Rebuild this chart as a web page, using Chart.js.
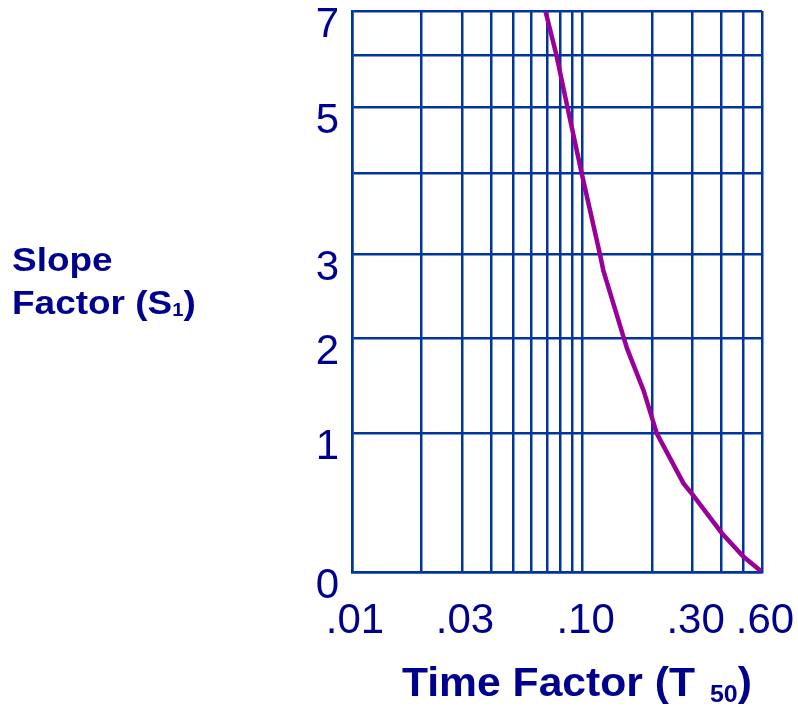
<!DOCTYPE html>
<html>
<head>
  <meta charset="UTF-8">
  <title>Slope Factor vs Time Factor</title>
  <script src="https://cdn.jsdelivr.net/npm/chart.js"></script>
  <style>
    body {
      margin: 0;
      background: #ffffff;
      font-family: "Liberation Sans", Arial, sans-serif;
    }
    #wrap {
      position: relative;
      width: 798px;
      height: 709px;
    }
    canvas {
      position: absolute;
      left: 0;
      top: 0;
    }
    .label {
      position: absolute;
      color: #00008f;
      font-weight: bold;
      white-space: nowrap;
      transform-origin: left top;
    }
    #ytitle {
      left: 12px;
      top: 238px;
      font-size: 33px;
      line-height: 43px;
      transform: scaleX(1.12);
    }
    #xtitle {
      left: 402px;
      top: 662px;
      font-size: 41px;
      line-height: 41px;
      transform: scaleX(1.04);
    }
    .sub1 { font-size: 18px; position: relative; top: 2px; }
    .sub50 { font-size: 24px; position: relative; top: 6px; margin-left: 3px; }
  </style>
</head>
<body>

  <div id="wrap">
    <canvas id="chart" width="798" height="709"></canvas>
    <div class="label" id="ytitle">Slope<br>Factor (S<span class="sub1">1</span>)</div>
    <div class="label" id="xtitle">Time Factor (T <span class="sub50">50</span>)</div>
  </div>

  <script>
    // curve
    const timeFactor  = [0.069, 0.077, 0.086, 0.099, 0.119, 0.123, 0.151, 0.156, 0.184, 0.21, 0.274, 0.303, 0.402, 0.499, 0.6];
    const slopeFactor = [7, 6, 5, 4, 3, 2.81, 2, 1.89, 1.45, 1, 0.64, 0.55, 0.28, 0.11, 0];

    // axis ticks
    const xTicks = [0.01, 0.02, 0.03, 0.04, 0.05, 0.06, 0.07, 0.08, 0.09, 0.1, 0.2, 0.3, 0.4, 0.5, 0.6];
    const xLabeled = [0.01, 0.03, 0.1, 0.3, 0.6];
    const xLabelText = ['.01', '.03', '.10', '.30', '.60'];
    const yTicks = [0, 1, 2, 3, 4, 5, 6, 7];
    const yLabelText = ['0', '1', '2', '3', '', '5', '', '7'];

    // the S axis of the original is hand-spaced, not linear:
    // fraction of the axis height at each whole value 0..7
    const yGridFrac = [0, 0.2468, 0.4168, 0.5661, 0.7116, 0.8282, 0.9215, 1];

    function fracOf(v) {
      const n = yGridFrac.length - 1;
      if (v <= 0) return yGridFrac[0] + v * (yGridFrac[1] - yGridFrac[0]);
      if (v >= n) return yGridFrac[n] + (v - n) * (yGridFrac[n] - yGridFrac[n - 1]);
      const i = Math.floor(v);
      return yGridFrac[i] + (v - i) * (yGridFrac[i + 1] - yGridFrac[i]);
    }
    function valueOf(f) {
      for (let i = 0; i < yGridFrac.length - 1; i++) {
        if (f <= yGridFrac[i + 1]) {
          return i + (f - yGridFrac[i]) / (yGridFrac[i + 1] - yGridFrac[i]);
        }
      }
      return yGridFrac.length - 1;
    }

    class StretchedScale extends Chart.LinearScale {
      getPixelForValue(value) {
        if (value === null || value === undefined) return NaN;
        return this.getPixelForDecimal(fracOf(value));
      }
      getValueForPixel(pixel) {
        return valueOf(this.getDecimalForPixel(pixel));
      }
    }
    StretchedScale.id = 'stretched';
    StretchedScale.defaults = {};
    Chart.register(StretchedScale);

    const ink = '#00008f';
    const gridBlue = '#00359c';
    const tickFont = { family: '"Liberation Sans", Arial, sans-serif', size: 42 };

    const ctx = document.getElementById('chart').getContext('2d');

    new Chart(ctx, {
      type: 'line',
      data: {
        datasets: [{
          data: timeFactor.map((t, i) => ({ x: t, y: slopeFactor[i] })),
          borderColor: '#990099',
          borderWidth: 4.5,
          pointRadius: 0,
          tension: 0,
          fill: false
        }]
      },
      options: {
        responsive: false,
        animation: false,
        layout: { padding: { left: 0, right: 36, top: 11, bottom: 0 } },
        plugins: {
          legend: { display: false },
          tooltip: { enabled: false }
        },
        scales: {
          x: {
            type: 'logarithmic',
            min: 0.01,
            max: 0.6,
            afterBuildTicks: s => { s.ticks = xTicks.map(v => ({ value: v })); },
            afterFit: s => { s.height = 137; s.paddingLeft = 0; s.paddingRight = 0; },
            grid: { color: gridBlue, lineWidth: 2.5, drawTicks: false },
            border: { color: gridBlue, width: 2.5 },
            ticks: {
              autoSkip: false,
              maxRotation: 0,
              minRotation: 0,
              padding: 24,
              labelOffset: 3,
              color: ink,
              font: tickFont,
              callback: value => {
                const k = xLabeled.findIndex(v => Math.abs(v - value) < 1e-9);
                return k >= 0 ? xLabelText[k] : '';
              }
            }
          },
          y: {
            type: 'stretched',
            min: 0,
            max: 7,
            afterBuildTicks: s => { s.ticks = yTicks.map(v => ({ value: v })); },
            afterFit: s => { s.width = 352; s.paddingTop = 0; s.paddingBottom = 0; },
            grid: { color: gridBlue, lineWidth: 2.5, drawTicks: false },
            border: { color: gridBlue, width: 2.5 },
            ticks: {
              autoSkip: false,
              padding: 13,
              labelOffset: 14,
              color: ink,
              font: tickFont,
              callback: (value, index) => yLabelText[yTicks.indexOf(value)]
            }
          }
        }
      }
    });
  </script>

</body>
</html>
